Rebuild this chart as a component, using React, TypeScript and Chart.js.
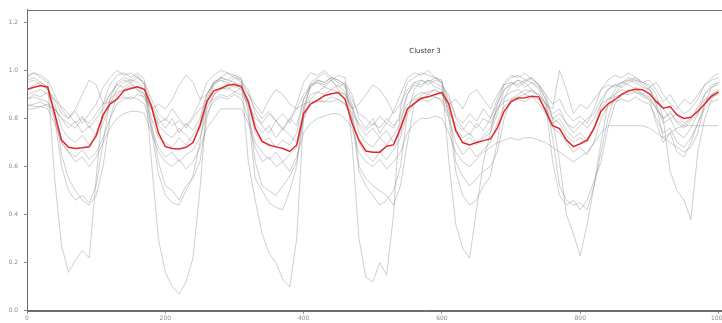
import React, { useEffect, useRef } from "react";
import { Chart, registerables } from "chart.js";

Chart.register(...registerables);

const TITLE = "Cluster 3";
const X_TICKS = [0, 200, 400, 600, 800, 1000];
const Y_TICKS = [0, 0.2, 0.4, 0.6, 0.8, 1.0, 1.2];

const X = [
  0, 10, 20, 30, 40, 50, 60, 70, 80, 90,
  100, 110, 120, 130, 140, 150, 160, 170, 180, 190,
  200, 210, 220, 230, 240, 250, 260, 270, 280, 290,
  300, 310, 320, 330, 340, 350, 360, 370, 380, 390,
  400, 410, 420, 430, 440, 450, 460, 470, 480, 490,
  500, 510, 520, 530, 540, 550, 560, 570, 580, 590,
  600, 610, 620, 630, 640, 650, 660, 670, 680, 690,
  700, 710, 720, 730, 740, 750, 760, 770, 780, 790,
  800, 810, 820, 830, 840, 850, 860, 870, 880, 890,
  900, 910, 920, 930, 940, 950, 960, 970, 980, 990,
  1000,
];

const MEAN = [
  0.92, 0.93, 0.937, 0.93, 0.82, 0.71, 0.68, 0.675, 0.678, 0.682,
  0.73, 0.815, 0.86, 0.88, 0.915, 0.925, 0.932, 0.92, 0.85, 0.74,
  0.683, 0.675, 0.673, 0.68, 0.70, 0.77, 0.87, 0.915, 0.925, 0.938,
  0.942, 0.932, 0.87, 0.76, 0.705, 0.69, 0.682, 0.675, 0.663, 0.69,
  0.82, 0.86, 0.875, 0.895, 0.903, 0.908, 0.88, 0.78, 0.71, 0.665,
  0.66, 0.66, 0.685, 0.69, 0.76, 0.84, 0.863, 0.884, 0.89, 0.9,
  0.909, 0.86, 0.75, 0.70, 0.69, 0.70, 0.708, 0.715, 0.76, 0.83,
  0.87, 0.885, 0.886, 0.893, 0.89, 0.83, 0.77, 0.758, 0.71, 0.683,
  0.695, 0.71, 0.76, 0.83, 0.86, 0.878, 0.9, 0.915, 0.922, 0.92,
  0.903, 0.87, 0.843, 0.85, 0.815, 0.80, 0.805, 0.83, 0.86, 0.893,
  0.91,
];

const U1 = [
  0.97, 0.99, 0.98, 0.96, 0.90, 0.84, 0.80, 0.83, 0.78, 0.82,
  0.86, 0.93, 0.97, 1.00, 0.98, 0.99, 0.97, 0.95, 0.88, 0.82,
  0.79, 0.84, 0.80, 0.77, 0.81, 0.87, 0.95, 0.98, 1.00, 0.99,
  0.97, 0.96, 0.90, 0.84, 0.80, 0.83, 0.79, 0.82, 0.78, 0.86,
  0.95, 0.99, 0.98, 1.00, 0.97, 0.96, 0.94, 0.88, 0.82, 0.80,
  0.77, 0.81, 0.78, 0.83, 0.90, 0.97, 0.99, 0.98, 1.00, 0.97,
  0.95, 0.88, 0.81, 0.78, 0.82, 0.79, 0.84, 0.80, 0.88, 0.95,
  0.98, 0.97, 0.99, 0.96, 0.94, 0.90, 0.86, 0.88, 0.82, 0.79,
  0.81, 0.78, 0.84, 0.92, 0.96, 0.98, 0.97, 0.99, 0.97, 0.95,
  0.96, 0.92, 0.87, 0.90, 0.85, 0.82, 0.84, 0.88, 0.94, 0.97,
  0.99,
];

const U2 = [
  0.88, 0.90, 0.89, 0.91, 0.88, 0.85, 0.82, 0.78, 0.81, 0.76,
  0.80, 0.84, 0.90, 0.94, 0.96, 0.95, 0.97, 0.94, 0.86, 0.80,
  0.76, 0.80, 0.74, 0.78, 0.75, 0.80, 0.90, 0.95, 0.96, 0.94,
  0.97, 0.95, 0.92, 0.82, 0.77, 0.74, 0.79, 0.75, 0.80, 0.77,
  0.88, 0.93, 0.95, 0.94, 0.96, 0.93, 0.95, 0.90, 0.80, 0.76,
  0.80, 0.74, 0.78, 0.76, 0.82, 0.90, 0.94, 0.93, 0.96, 0.95,
  0.93, 0.90, 0.80, 0.76, 0.73, 0.78, 0.75, 0.80, 0.86, 0.92,
  0.94, 0.96, 0.93, 0.95, 0.92, 0.86, 0.82, 0.84, 0.78, 0.74,
  0.77, 0.80, 0.82, 0.88, 0.92, 0.94, 0.93, 0.95, 0.96, 0.94,
  0.92, 0.88, 0.84, 0.80, 0.82, 0.78, 0.80, 0.85, 0.90, 0.93,
  0.94,
];

const U3 = [
  0.85, 0.86, 0.87, 0.85, 0.84, 0.80, 0.76, 0.79, 0.74, 0.77,
  0.73, 0.80, 0.88, 0.91, 0.92, 0.94, 0.93, 0.90, 0.84, 0.77,
  0.74, 0.72, 0.76, 0.73, 0.70, 0.76, 0.84, 0.90, 0.92, 0.93,
  0.91, 0.93, 0.88, 0.78, 0.74, 0.77, 0.72, 0.76, 0.73, 0.70,
  0.84, 0.90, 0.91, 0.93, 0.92, 0.94, 0.91, 0.85, 0.77, 0.73,
  0.76, 0.72, 0.75, 0.70, 0.74, 0.84, 0.89, 0.91, 0.90, 0.92,
  0.90, 0.84, 0.76, 0.72, 0.74, 0.70, 0.73, 0.76, 0.84, 0.89,
  0.91, 0.92, 0.90, 0.92, 0.89, 0.84, 0.78, 0.80, 0.75, 0.72,
  0.74, 0.71, 0.76, 0.84, 0.88, 0.90, 0.92, 0.91, 0.93, 0.90,
  0.89, 0.84, 0.80, 0.83, 0.78, 0.76, 0.79, 0.82, 0.87, 0.90,
  0.91,
];

const U4 = [
  0.95, 0.96, 0.94, 0.92, 0.88, 0.82, 0.80, 0.84, 0.90, 0.96,
  0.94, 0.86, 0.90, 0.94, 0.93, 0.95, 0.92, 0.88, 0.84, 0.86,
  0.84, 0.88, 0.94, 0.98, 0.95, 0.88, 0.90, 0.94, 0.96, 0.95,
  0.93, 0.94, 0.90, 0.86, 0.82, 0.88, 0.92, 0.90, 0.86, 0.84,
  0.90, 0.94, 0.95, 0.93, 0.96, 0.92, 0.90, 0.84, 0.86, 0.90,
  0.94, 0.92, 0.88, 0.82, 0.86, 0.92, 0.95, 0.94, 0.96, 0.93,
  0.92, 0.86, 0.88, 0.84, 0.90, 0.92, 0.88, 0.84, 0.90, 0.94,
  0.95, 0.93, 0.95, 0.92, 0.90, 0.86, 0.84, 1.00, 0.92, 0.82,
  0.86, 0.84, 0.88, 0.92, 0.94, 0.93, 0.95, 0.94, 0.92, 0.90,
  0.93, 0.95, 0.90, 0.86, 0.84, 0.88, 0.86, 0.90, 0.94, 0.96,
  0.97,
];

const U5 = [
  0.86, 0.85, 0.85, 0.86, 0.84, 0.80, 0.78, 0.76, 0.80, 0.78,
  0.82, 0.86, 0.87, 0.88, 0.89, 0.88, 0.90, 0.89, 0.85, 0.78,
  0.80, 0.77, 0.79, 0.76, 0.80, 0.84, 0.86, 0.88, 0.90, 0.89,
  0.91, 0.90, 0.86, 0.80, 0.78, 0.82, 0.79, 0.76, 0.80, 0.84,
  0.86, 0.87, 0.87, 0.87, 0.87, 0.88, 0.86, 0.82, 0.78, 0.75,
  0.78, 0.76, 0.80, 0.77, 0.80, 0.86, 0.88, 0.88, 0.90, 0.89,
  0.88, 0.82, 0.78, 0.75, 0.79, 0.76, 0.80, 0.78, 0.84, 0.87,
  0.88, 0.89, 0.90, 0.89, 0.88, 0.84, 0.80, 0.82, 0.78, 0.76,
  0.79, 0.76, 0.80, 0.86, 0.88, 0.89, 0.90, 0.90, 0.91, 0.89,
  0.88, 0.84, 0.80, 0.82, 0.79, 0.77, 0.80, 0.84, 0.88, 0.89,
  0.90,
];

const U6 = [
  0.92, 0.94, 0.95, 0.93, 0.86, 0.76, 0.72, 0.70, 0.73, 0.69,
  0.72, 0.78, 0.86, 0.92, 0.95, 0.96, 0.95, 0.92, 0.80, 0.72,
  0.70, 0.68, 0.72, 0.69, 0.73, 0.78, 0.90, 0.95, 0.97, 0.96,
  0.95, 0.94, 0.86, 0.74, 0.70, 0.72, 0.68, 0.71, 0.69, 0.74,
  0.88, 0.94, 0.96, 0.95, 0.97, 0.95, 0.93, 0.86, 0.74, 0.70,
  0.68, 0.72, 0.69, 0.73, 0.78, 0.90, 0.95, 0.96, 0.94, 0.96,
  0.95, 0.86, 0.74, 0.70, 0.72, 0.69, 0.72, 0.74, 0.82, 0.92,
  0.95, 0.94, 0.96, 0.95, 0.93, 0.88, 0.80, 0.78, 0.73, 0.70,
  0.72, 0.70, 0.76, 0.86, 0.92, 0.94, 0.95, 0.96, 0.95, 0.93,
  0.92, 0.86, 0.78, 0.80, 0.74, 0.72, 0.76, 0.82, 0.90, 0.94,
  0.95,
];

const U7 = [
  0.88, 0.89, 0.88, 0.87, 0.80, 0.70, 0.66, 0.64, 0.67, 0.63,
  0.66, 0.72, 0.80, 0.86, 0.88, 0.89, 0.88, 0.86, 0.76, 0.68,
  0.64, 0.66, 0.62, 0.65, 0.67, 0.72, 0.82, 0.87, 0.89, 0.88,
  0.90, 0.88, 0.80, 0.70, 0.66, 0.63, 0.66, 0.62, 0.65, 0.68,
  0.80, 0.86, 0.88, 0.87, 0.89, 0.88, 0.86, 0.80, 0.70, 0.65,
  0.62, 0.66, 0.63, 0.67, 0.72, 0.82, 0.86, 0.88, 0.87, 0.89,
  0.87, 0.80, 0.70, 0.65, 0.68, 0.64, 0.67, 0.70, 0.78, 0.85,
  0.87, 0.88, 0.87, 0.89, 0.86, 0.82, 0.76, 0.74, 0.70, 0.66,
  0.68, 0.65, 0.70, 0.80, 0.85, 0.87, 0.88, 0.87, 0.89, 0.87,
  0.86, 0.80, 0.74, 0.76, 0.70, 0.68, 0.72, 0.78, 0.84, 0.87,
  0.88,
];

const L1 = [
  0.84, 0.84, 0.85, 0.84, 0.78, 0.70, 0.66, 0.62, 0.64, 0.60,
  0.64, 0.70, 0.76, 0.80, 0.82, 0.83, 0.83, 0.82, 0.74, 0.66,
  0.62, 0.60, 0.63, 0.59, 0.62, 0.68, 0.76, 0.80, 0.84, 0.84,
  0.84, 0.84, 0.78, 0.68, 0.62, 0.64, 0.60, 0.62, 0.58, 0.64,
  0.74, 0.78, 0.80, 0.81, 0.82, 0.82, 0.80, 0.76, 0.66, 0.62,
  0.60, 0.63, 0.59, 0.62, 0.66, 0.74, 0.78, 0.80, 0.80, 0.81,
  0.80, 0.74, 0.66, 0.62, 0.60, 0.63, 0.66, 0.68, 0.70, 0.71,
  0.72, 0.71, 0.72, 0.72, 0.71, 0.70, 0.68, 0.66, 0.64, 0.62,
  0.64, 0.66, 0.70, 0.74, 0.77, 0.77, 0.77, 0.77, 0.77, 0.77,
  0.76, 0.74, 0.72, 0.74, 0.76, 0.77, 0.77, 0.77, 0.77, 0.77,
  0.77,
];

const M1 = [
  0.96, 0.97, 0.95, 0.93, 0.80, 0.60, 0.50, 0.46, 0.48, 0.45,
  0.52, 0.70, 0.88, 0.95, 0.97, 0.96, 0.98, 0.94, 0.75, 0.57,
  0.48, 0.45, 0.44, 0.50, 0.56, 0.70, 0.88, 0.95, 0.97, 0.96,
  0.98, 0.96, 0.82, 0.55, 0.50, 0.45, 0.43, 0.42, 0.50, 0.60,
  0.85, 0.93, 0.96, 0.95, 0.97, 0.96, 0.94, 0.80, 0.58, 0.52,
  0.48, 0.44, 0.46, 0.50, 0.60, 0.82, 0.92, 0.96, 0.95, 0.97,
  0.95, 0.80, 0.58, 0.48, 0.44, 0.46, 0.52, 0.56, 0.70, 0.88,
  0.94, 0.96, 0.95, 0.97, 0.94, 0.88, 0.72, 0.52, 0.46, 0.44,
  0.45, 0.42, 0.52, 0.70, 0.86, 0.92, 0.95, 0.97, 0.96, 0.95,
  0.93, 0.85, 0.72, 0.70, 0.68, 0.66, 0.68, 0.74, 0.86, 0.93,
  0.95,
];

const M2 = [
  0.90, 0.91, 0.92, 0.90, 0.84, 0.65, 0.55, 0.50, 0.46, 0.44,
  0.48, 0.60, 0.80, 0.90, 0.92, 0.93, 0.92, 0.90, 0.78, 0.62,
  0.52, 0.50, 0.46, 0.52, 0.55, 0.62, 0.80, 0.90, 0.93, 0.92,
  0.94, 0.92, 0.85, 0.62, 0.52, 0.50, 0.48, 0.52, 0.56, 0.62,
  0.80, 0.88, 0.91, 0.90, 0.92, 0.91, 0.90, 0.84, 0.60, 0.55,
  0.52, 0.50, 0.48, 0.44, 0.52, 0.70, 0.86, 0.90, 0.91, 0.92,
  0.90, 0.84, 0.62, 0.56, 0.52, 0.55, 0.58, 0.60, 0.66, 0.80,
  0.88, 0.90, 0.92, 0.91, 0.90, 0.86, 0.62, 0.48, 0.44, 0.46,
  0.42, 0.46, 0.54, 0.62, 0.76, 0.86, 0.90, 0.92, 0.91, 0.90,
  0.88, 0.78, 0.70, 0.74, 0.66, 0.64, 0.70, 0.78, 0.86, 0.90,
  0.92,
];

const D1 = [
  0.98, 0.99, 0.97, 0.95, 0.55, 0.27, 0.16, 0.21, 0.25, 0.22,
  0.55, 0.86, 0.94, 0.98, 0.99, 0.97, 0.99, 0.96, 0.62, 0.30,
  0.16, 0.10, 0.07, 0.12, 0.22, 0.50, 0.86, 0.94, 0.97, 0.99,
  0.98, 0.97, 0.62, 0.46, 0.32, 0.24, 0.20, 0.13, 0.10, 0.30,
  0.82, 0.95, 0.97, 0.99, 0.96, 0.98, 0.97, 0.70, 0.30, 0.14,
  0.12, 0.20, 0.15, 0.40, 0.85, 0.95, 0.97, 0.99, 0.98, 0.97,
  0.96, 0.62, 0.36, 0.26, 0.22, 0.42, 0.62, 0.74, 0.86, 0.94,
  0.97, 0.98, 0.96, 0.97, 0.94, 0.90, 0.80, 0.62, 0.40, 0.32,
  0.23, 0.36, 0.52, 0.66, 0.80, 0.90, 0.94, 0.96, 0.97, 0.95,
  0.94, 0.90, 0.80, 0.58, 0.50, 0.46, 0.38, 0.66, 0.80, 0.88,
  0.92,
];

const GRAY_SERIES = [U1, U2, U3, U4, U5, U6, U7, L1, M1, M2, D1];

const X_MAX = 1151;
const Y_MAX = 1.253;

const framePlugin = {
  id: "frameAndTitle",
  afterDatasetsDraw(chart: any) {
    const { ctx, chartArea } = chart;
    ctx.save();
    ctx.strokeStyle = "#6e6e6e";
    ctx.lineWidth = 1;
    ctx.strokeRect(
      Math.round(chartArea.left) + 0.5,
      Math.round(chartArea.top) + 0.5,
      Math.round(chartArea.right - chartArea.left),
      Math.round(chartArea.bottom - chartArea.top)
    );
    ctx.fillStyle = "#333333";
    ctx.font = "7px 'DejaVu Sans', sans-serif";
    ctx.textAlign = "center";
    ctx.textBaseline = "middle";
    ctx.fillText(TITLE, (chartArea.left + chartArea.right) / 2, chartArea.top + 42);
    ctx.restore();
  },
};

export default function App() {
  const ref = useRef<HTMLCanvasElement | null>(null);

  useEffect(() => {
    if (!ref.current) return;
    const toPts = (arr: number[]) => X.map((x, i) => ({ x, y: arr[i] }));
    const datasets: any[] = [
      {
        data: toPts(MEAN),
        borderColor: "#e3262b",
        borderWidth: 1.5,
        pointRadius: 0,
        order: 0,
      },
      ...GRAY_SERIES.map((s) => ({
        data: toPts(s),
        borderColor: "rgba(120,120,120,0.36)",
        borderWidth: 1,
        pointRadius: 0,
        order: 1,
      })),
    ];
    const tickFont = { size: 6, family: "'DejaVu Sans', sans-serif" };
    const chart = new Chart(ref.current, {
      type: "line",
      data: { datasets },
      plugins: [framePlugin],
      options: {
        animation: false,
        responsive: false,
        events: [],
        layout: { padding: { top: 6, right: 27, bottom: 0, left: 0 } },
        plugins: { legend: { display: false }, tooltip: { enabled: false }, title: { display: false } },
        scales: {
          x: {
            type: "linear",
            min: 0,
            max: X_MAX,
            afterBuildTicks: (scale: any) => {
              scale.ticks = X_TICKS.map((v) => ({ value: v }));
            },
            ticks: {
              color: "#8a8a8a",
              font: tickFont,
              padding: 1,
              maxRotation: 0,
              autoSkip: false,
              callback: (v: any) => String(v),
            },
            grid: { drawOnChartArea: false, drawTicks: true, tickLength: 3, color: "#8a8a8a" },
            border: { display: true, color: "#6e6e6e" },
          },
          y: {
            type: "linear",
            min: 0,
            max: Y_MAX,
            afterBuildTicks: (scale: any) => {
              scale.ticks = Y_TICKS.map((v) => ({ value: v }));
            },
            afterFit: (scale: any) => {
              scale.width = 27;
            },
            ticks: {
              color: "#8a8a8a",
              font: tickFont,
              padding: 6,
              autoSkip: false,
              callback: (v: any) => Number(v).toFixed(1),
            },
            grid: { drawOnChartArea: false, drawTicks: true, tickLength: 3, color: "#8a8a8a" },
            border: { display: true, color: "#6e6e6e" },
          },
        },
      },
    });
    return () => chart.destroy();
  }, []);

  return (
    <div
      style={{
        position: "fixed",
        left: 0,
        top: 0,
        width: 722,
        height: 323,
        overflow: "hidden",
        background: "#ffffff",
      }}
    >
      <canvas ref={ref} width={850} height={323} style={{ display: "block" }} />
    </div>
  );
}
